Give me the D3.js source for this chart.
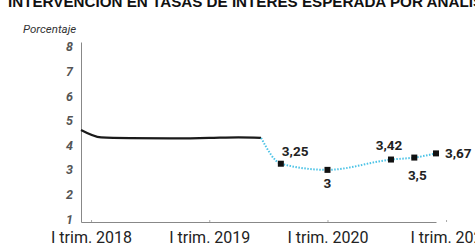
<!DOCTYPE html>
<html lang="es">
<head>
  <meta charset="UTF-8">
  <title>Intervención en tasas de interés</title>
  <script src="https://d3js.org/d3.v7.min.js"></script>
  <style>
    body { margin: 0; background: #fff; }
    svg { display: block; }
  </style>
</head>
<body>
  <div id="chart"></div>
  <script>
    // Observed rate (black line)
    const histDates = ["2017-12-01", "2018-02-01", "2018-05-01", "2018-09-01", "2019-01-01", "2019-04-01", "2019-06-10"];
    const histValues = [4.62, 4.32, 4.29, 4.28, 4.30, 4.32, 4.30];

    // Expected by analysts (dotted line, labelled points)
    const fcDates = ["2019-08-10", "2020-01-01", "2020-07-15", "2020-09-25", "2020-12-01"];
    const fcValues = [3.25, 3, 3.42, 3.5, 3.67];
    const fcLabels = ["3,25", "3", "3,42", "3,5", "3,67"];

    const yTicks = [1, 2, 3, 4, 5, 6, 7, 8];
    const xTickDates = ["2018-01-01", "2019-01-01", "2020-01-01", "2021-01-01"];
    const xTickLabels = ["I trim. 2018", "I trim. 2019", "I trim. 2020", "I trim. 202"];

    const parse = d3.timeParse("%Y-%m-%d");
    const width = 475, height = 248;

    const svg = d3.select("#chart").append("svg")
      .attr("width", width)
      .attr("height", height);

    // title, cut off at the top like the source
    svg.append("text")
      .attr("x", 8)
      .attr("y", 7)
      .attr("font-family", "Liberation Sans, Arial, sans-serif")
      .attr("font-weight", "bold")
      .attr("font-size", 15.2)
      .attr("fill", "#111")
      .text("INTERVENCIÓN EN TASAS DE INTERÉS ESPERADA POR ANALISTAS");

    svg.append("text")
      .attr("x", 23)
      .attr("y", 33)
      .attr("font-family", "Roboto, sans-serif")
      .attr("font-style", "italic")
      .attr("font-size", 11.5)
      .attr("fill", "#333")
      .text("Porcentaje");

    const x = d3.scaleTime()
      .domain([parse("2017-12-01"), parse("2020-12-01")])
      .range([81, 436]);

    const y = d3.scaleLinear()
      .domain([0.88, 8.2])
      .range([222, 42]);

    // y axis
    const yAxis = svg.append("g")
      .attr("transform", "translate(81,0)")
      .call(d3.axisLeft(y).tickValues(yTicks).tickSize(0).tickPadding(8).tickFormat(d3.format("d")));
    yAxis.select(".domain").attr("stroke", "#888");
    yAxis.selectAll("text")
      .attr("font-family", "Roboto, sans-serif")
      .attr("font-style", "italic")
      .attr("font-weight", "bold")
      .attr("font-size", 12.5)
      .attr("fill", "#555");

    // x axis
    const xAxis = svg.append("g")
      .attr("transform", "translate(0,222)")
      .call(d3.axisBottom(x)
        .tickValues(xTickDates.map(parse))
        .tickSizeInner(-2).tickSizeOuter(0).tickPadding(10)
        .tickFormat((d, i) => xTickLabels[i]));
    xAxis.select(".domain").attr("stroke", "#888");
    xAxis.selectAll(".tick line").attr("stroke", "#aaa");
    xAxis.selectAll("text")
      .attr("font-family", "Roboto, sans-serif")
      .attr("font-size", 16)
      .attr("fill", "#222");

    const hist = histDates.map((d, i) => ({ date: parse(d), value: histValues[i] }));
    const fc = fcDates.map((d, i) => ({ date: parse(d), value: fcValues[i], label: fcLabels[i] }));

    const line = d3.line()
      .x(d => x(d.date))
      .y(d => y(d.value))
      .curve(d3.curveMonotoneX);

    svg.append("path")
      .datum(hist)
      .attr("fill", "none")
      .attr("stroke", "#1a1a1a")
      .attr("stroke-width", 2.2)
      .attr("d", line);

    svg.append("path")
      .datum([hist[hist.length - 1]].concat(fc))
      .attr("fill", "none")
      .attr("stroke", "#4cc3e6")
      .attr("stroke-width", 2)
      .attr("stroke-dasharray", "1.5,1.5")
      .attr("d", line);

    svg.selectAll(".mark")
      .data(fc)
      .join("rect")
      .attr("class", "mark")
      .attr("x", d => x(d.date) - 3)
      .attr("y", d => y(d.value) - 3)
      .attr("width", 6)
      .attr("height", 6)
      .attr("fill", "#111");

    // label placement: above-right, below, above, below, right
    const offs = [
      { dx: 1, dy: -8, anchor: "start" },
      { dx: 0, dy: 18, anchor: "middle" },
      { dx: -2, dy: -10, anchor: "middle" },
      { dx: 3, dy: 22, anchor: "middle" },
      { dx: 9, dy: 5, anchor: "start" }
    ];

    svg.selectAll(".lbl")
      .data(fc)
      .join("text")
      .attr("class", "lbl")
      .attr("x", (d, i) => x(d.date) + offs[i].dx)
      .attr("y", (d, i) => y(d.value) + offs[i].dy)
      .attr("text-anchor", (d, i) => offs[i].anchor)
      .attr("font-family", "Roboto, sans-serif")
      .attr("font-weight", "bold")
      .attr("font-size", 13.5)
      .attr("fill", "#222")
      .text(d => d.label);
  </script>
</body>
</html>
